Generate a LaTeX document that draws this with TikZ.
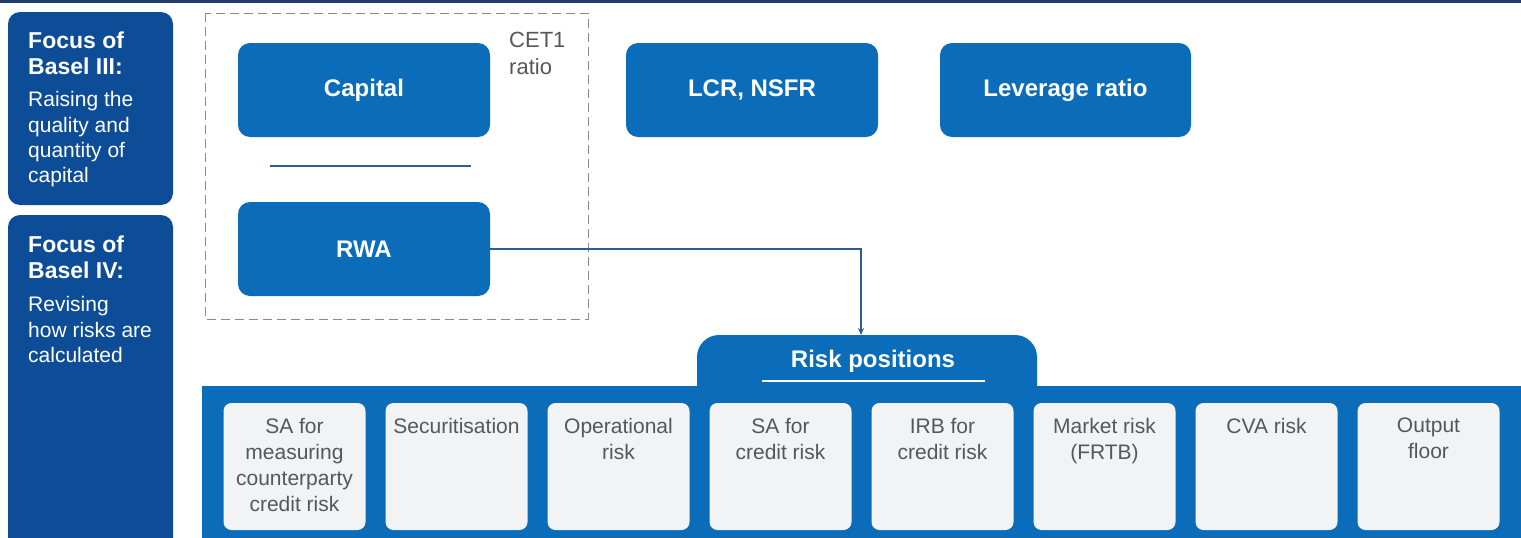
\documentclass[tikz,border=0pt]{standalone}
\usepackage{fontspec}
\setmainfont{Liberation Sans}
\usetikzlibrary{arrows.meta}
\definecolor{navy}{HTML}{1F3C6B}
\definecolor{dblue}{HTML}{0D4C97}
\definecolor{mblue}{HTML}{0B6DB9}
\definecolor{lgray}{HTML}{F2F3F4}
\definecolor{tgray}{HTML}{575757}
\definecolor{lnblue}{HTML}{2E5C92}
\definecolor{dashgray}{HTML}{8A8A8A}
\begin{document}
\begin{tikzpicture}[x=1pt,y=-1pt,
  bluebox/.style={fill=mblue, rounded corners=12pt, minimum width=252pt, minimum height=94pt,
    text=white, font=\fontsize{24}{28}\selectfont\bfseries, inner sep=0pt},
  focusbox/.style={fill=dblue, rounded corners=12pt},
  titleline/.style={anchor=base west, inner sep=0pt, text=white, font=\fontsize{23}{26}\selectfont\bfseries},
  plainline/.style={anchor=base west, inner sep=0pt, text=white, font=\fontsize{21}{26}\selectfont},
  cetline/.style={anchor=base west, inner sep=0pt, text=tgray, font=\fontsize{22}{26}\selectfont},
  smallbox/.style={fill=lgray, rounded corners=8pt, minimum width=142pt, minimum height=127pt, inner sep=0pt},
  smalltext/.style={anchor=north, align=center, inner sep=0pt, text=tgray, font=\fontsize{21}{26}\selectfont},
  conn/.style={draw=lnblue, line width=1.2pt},
]
\useasboundingbox (0,0) rectangle (1521,538);
\clip (0,0) rectangle (1521,538);
\fill[white] (0,0) rectangle (1521,538);
% top bar
\fill[navy] (0,0) rectangle (1521,3);
% left focus boxes
\fill[focusbox] (8,12) rectangle (173,205);
\fill[focusbox] (8,215) rectangle (173,570);
\node[titleline] (f3a) at (28,48) {Focus of};
\node[titleline] (f3b) at (28,74) {Basel III:};
\node[plainline] (f3c) at (28,106) {Raising the};
\node[plainline] (f3d) at (28,132) {quality and};
\node[plainline] (f3e) at (28,157) {quantity of};
\node[plainline] (f3f) at (28,182) {capital};
\node[titleline] (f4a) at (28,252) {Focus of};
\node[titleline] (f4b) at (28,278) {Basel IV:};
\node[plainline] (f4c) at (28,311) {Revising};
\node[plainline] (f4d) at (28,337) {how risks are};
\node[plainline] (f4e) at (28,362) {calculated};
% dashed CET1 frame
\draw[dashgray, line width=1pt, dash pattern=on 9pt off 5pt] (205,13) rectangle (588,319);
\node[cetline] (cet) at (509,47) {CET1};
\node[cetline] (ratio) at (509,74) {ratio};
% top boxes
\node[bluebox] (capital) at (364,90) {Capital};
\node[bluebox] (rwa) at (364,249) {RWA};
\node[bluebox] (lcr) at (752,90) {LCR, NSFR};
\node[bluebox, minimum width=251pt] (lev) at (1065.5,90) {Leverage ratio};
\draw[conn] (270,166) -- (471,166);
% risk positions tab and band
\fill[mblue, rounded corners=22pt] (697,420) -- (697,335) -- (1037,335) -- (1037,420) -- cycle;
\fill[mblue] (202,386) rectangle (1521,540);
\coordinate (tabtop) at (861,335);
\node[inner sep=0pt, text=white, font=\fontsize{24}{28}\selectfont\bfseries] (rp) at (873,361) {Risk positions};
\draw[white, line width=1.2pt] (762,381) -- (985,381);
\draw[conn, -{Stealth[length=7pt,width=6pt]}] (rwa.east) -| (tabtop);
% small boxes
\foreach \t [count=\i from 0] in {{SA for\\measuring\\counterparty\\credit risk},{Securitisation},{Operational\\risk},{SA for\\credit risk},{IRB for\\credit risk},{Market risk\\(FRTB)},{CVA risk},{Output\\floor}}{
  \node[smallbox] (sb\i) at ({294.5+162*\i},466.5) {};
  \node[smalltext] (st\i) at ({294.5+162*\i},418) {\t};
}
\end{tikzpicture}
\end{document}
